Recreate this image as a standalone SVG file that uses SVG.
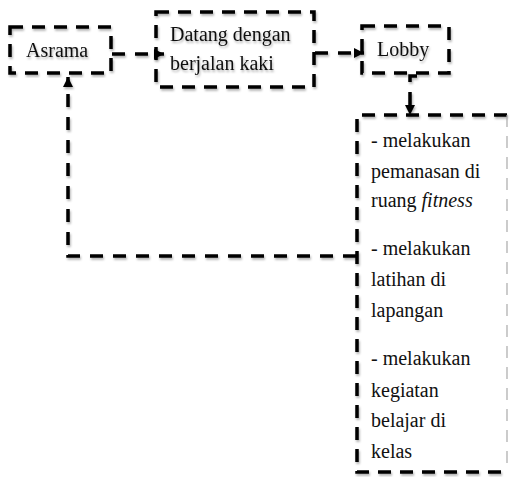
<svg xmlns="http://www.w3.org/2000/svg" width="510" height="477" viewBox="0 0 510 477">
<defs>
<style>
.box{fill:none;stroke:#000;stroke-width:3.5;stroke-dasharray:13 9}
.edge{fill:none;stroke:#000;stroke-width:3.5;stroke-dasharray:13 10}
.faint{fill:none;stroke:#aaa;stroke-width:1.2;stroke-dasharray:12 9}
.t{font-family:'Liberation Serif','Times New Roman',serif;font-size:20px;fill:#111}
</style>
<marker id="arr" markerUnits="userSpaceOnUse" markerWidth="10" markerHeight="10" refX="10" refY="5" orient="auto">
<path d="M0,0 L10,5 L0,10 z" fill="#000"/>
</marker>
<filter id="sh" x="-10%" y="-10%" width="120%" height="120%">
<feDropShadow dx="1" dy="2" stdDeviation="1.2" flood-color="#000" flood-opacity="0.3"/>
</filter>
</defs>
<rect width="510" height="477" fill="#fff"/>
<g id="connectors" filter="url(#sh)">
<path class="edge" d="M112,54 H164" marker-end="url(#arr)"/>
<path class="edge" d="M315,53 H364" marker-end="url(#arr)"/>
<path class="edge" d="M417,76 H410 V115" marker-end="url(#arr)"/>
<path class="edge" d="M356,256 H68 V77" marker-end="url(#arr)"/>
</g>
<g id="asrama" filter="url(#sh)">
<rect class="box" x="10" y="27" width="101" height="46"/>
<text class="t" font-family="Liberation Serif, serif" x="26" y="57">Asrama</text>
</g>
<g id="datang" filter="url(#sh)">
<rect class="box" x="156" y="12" width="158" height="75"/>
<text class="t" font-family="Liberation Serif, serif" x="170" y="41">Datang dengan</text>
<text class="t" font-family="Liberation Serif, serif" x="170" y="70">berjalan kaki</text>
</g>
<g id="lobby" filter="url(#sh)">
<rect class="box" x="362" y="26" width="87" height="47"/>
<text class="t" font-family="Liberation Serif, serif" x="377" y="56">Lobby</text>
</g>
<g id="activities" font-family="Liberation Serif, serif">
<path class="box" filter="url(#sh)" d="M507,115 H357 V472 H507"/>
<path class="faint" d="M507,115 V472"/>
<text class="t" x="371" y="147">- melakukan</text>
<text class="t" x="371" y="178">pemanasan di</text>
<text class="t" x="371" y="207">ruang <tspan font-style="italic">fitness</tspan></text>
<text class="t" x="371" y="255">- melakukan</text>
<text class="t" x="371" y="286">latihan di</text>
<text class="t" x="371" y="317">lapangan</text>
<text class="t" x="371" y="365">- melakukan</text>
<text class="t" x="371" y="397">kegiatan</text>
<text class="t" x="371" y="427">belajar di</text>
<text class="t" x="371" y="458">kelas</text>
</g>
</svg>
